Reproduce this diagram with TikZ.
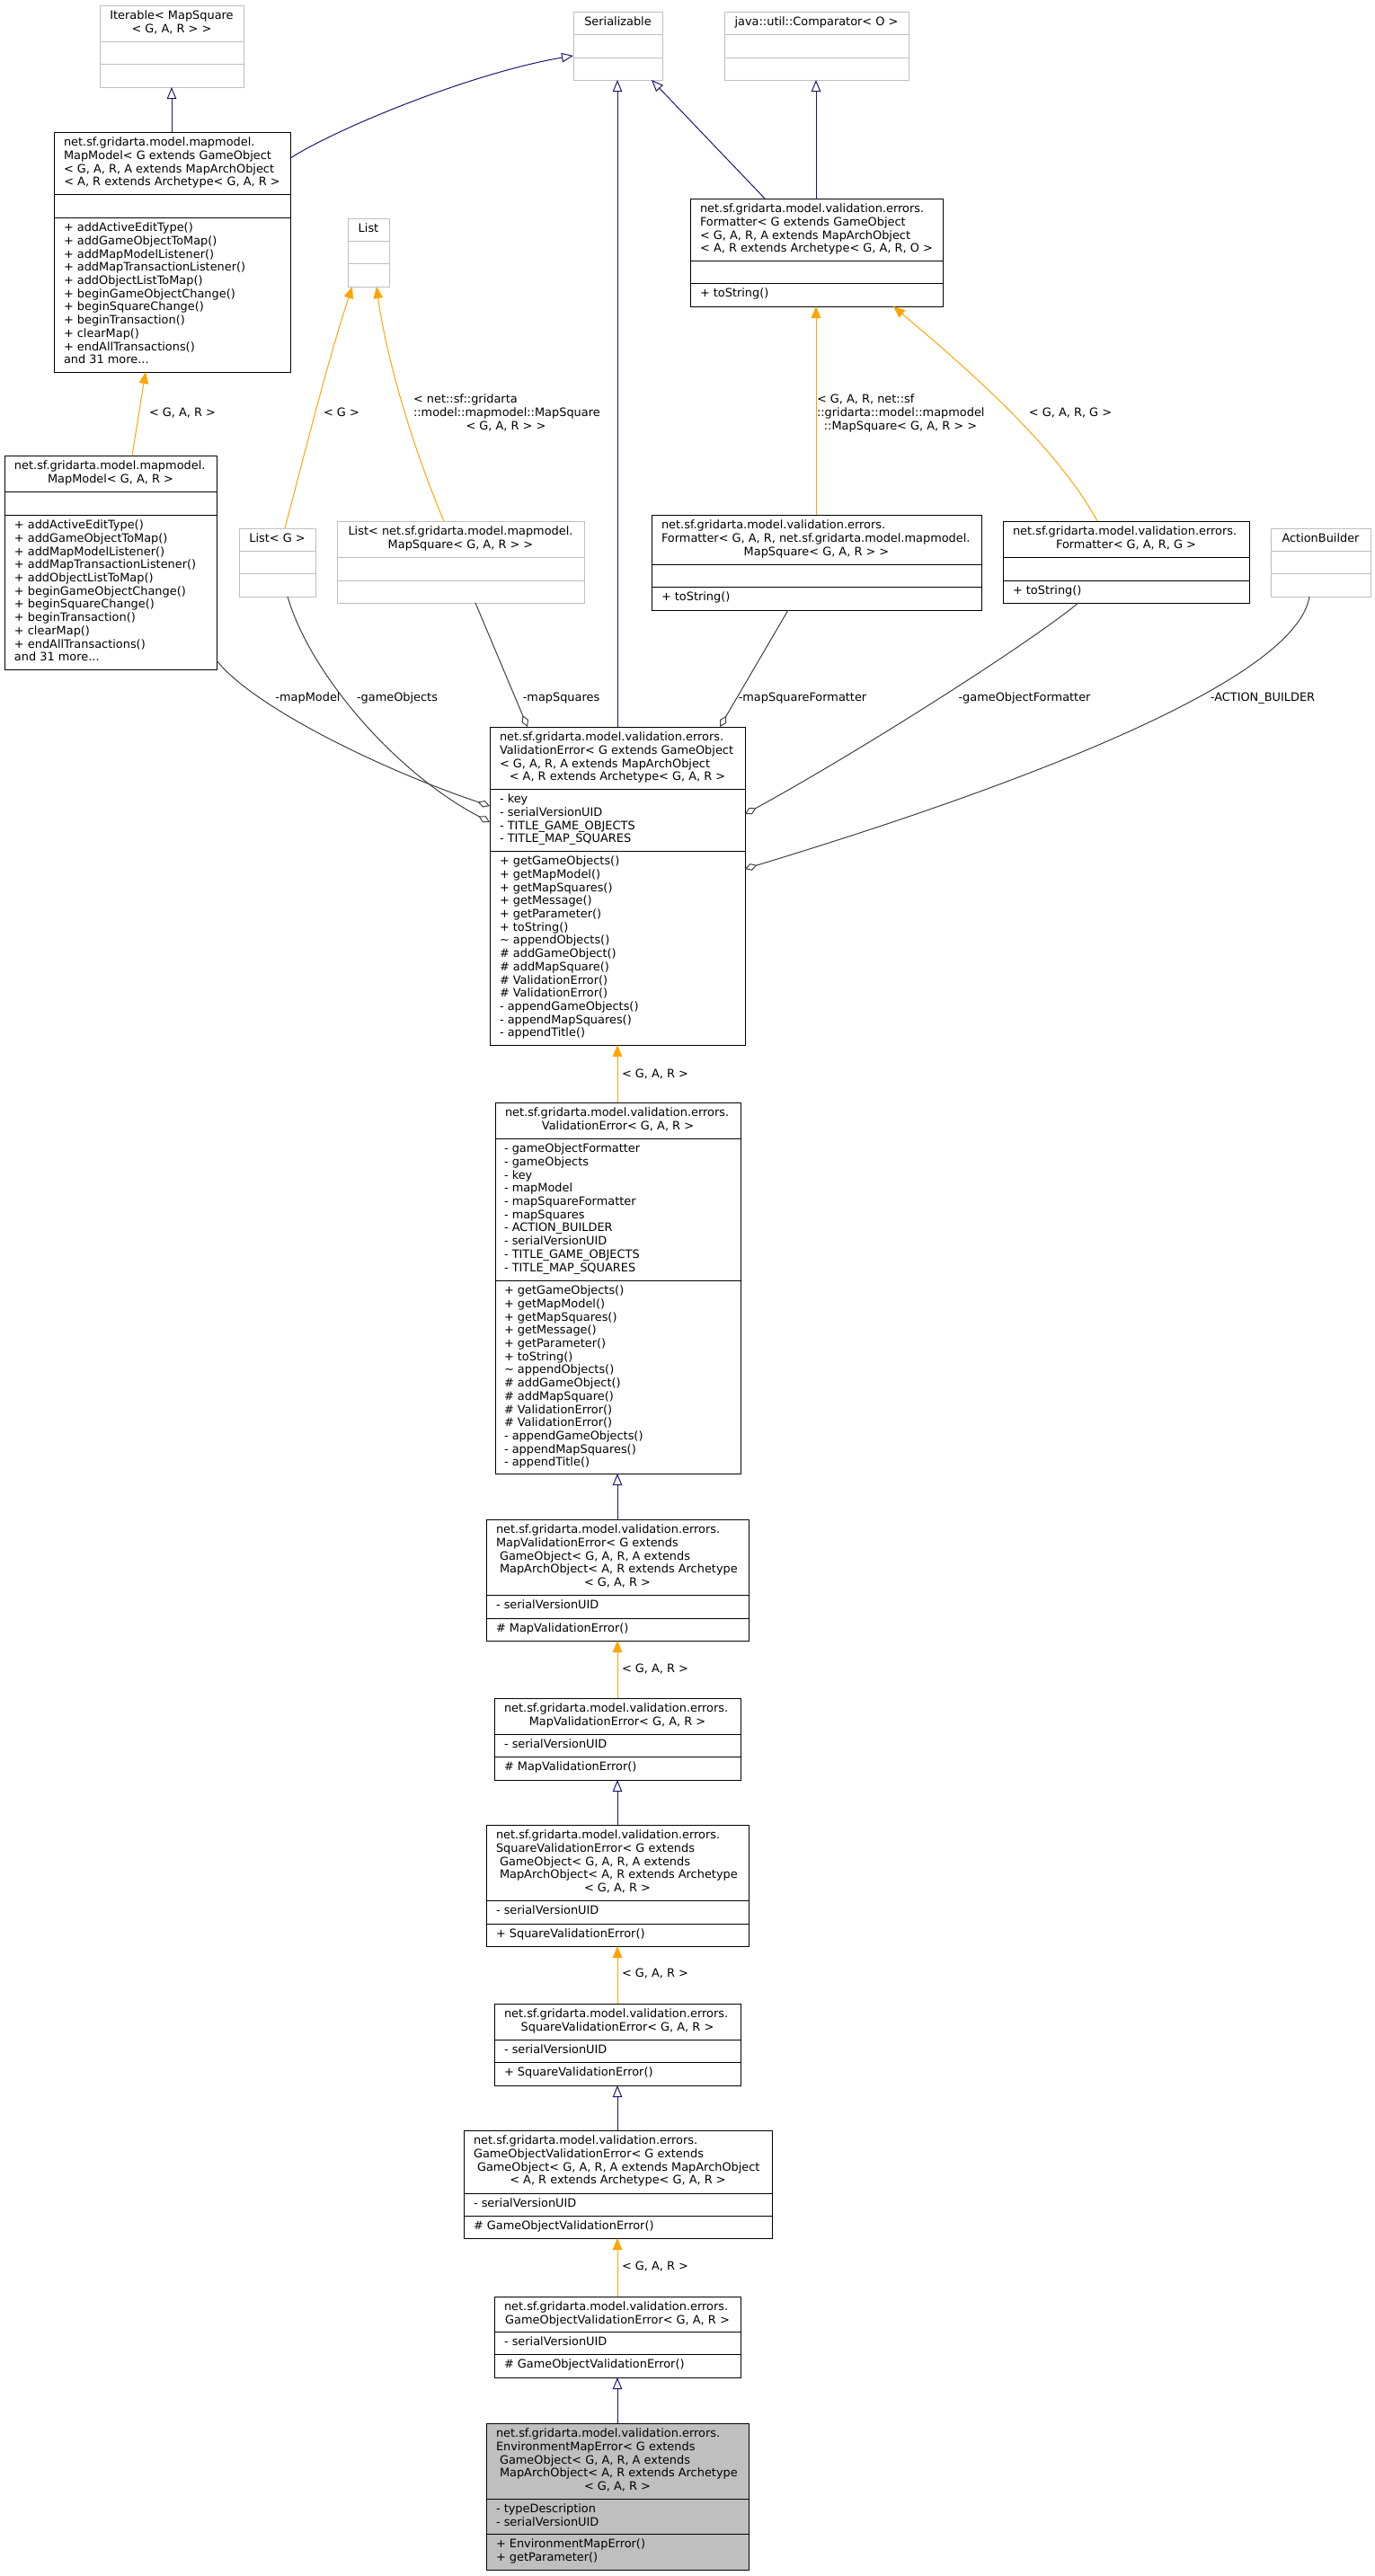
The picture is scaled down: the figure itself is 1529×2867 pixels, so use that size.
\documentclass[tikz,border=0pt]{standalone}
\usepackage{fontspec}
\setmainfont{DejaVu Sans}
\usetikzlibrary{arrows.meta}
\definecolor{navyc}{HTML}{191970}
\definecolor{orangec}{HTML}{FFA500}
\definecolor{aggc}{HTML}{404040}
\definecolor{extc}{HTML}{BFBFBF}
\definecolor{curfill}{HTML}{BFBFBF}
\newcommand\dfont{\fontsize{12.9pt}{14.7pt}\selectfont}
\newcommand\lns[1]{\begin{tabular}[t]{@{}l@{}}#1\end{tabular}}
\newcommand\clns[1]{\begin{tabular}[t]{@{}c@{}}#1\end{tabular}}
\newcommand\lsp{\hspace*{4pt}}
\tikzset{
  txt/.style={anchor=base west, inner sep=0pt, outer sep=0pt, font=\dfont},
  ctxt/.style={anchor=base, inner sep=0pt, outer sep=0pt, font=\dfont},
  inh/.style={draw=navyc, line width=1pt, -{Triangle[open, length=13pt, width=10.5pt]}},
  tpl/.style={draw=orangec, line width=1pt, -{Triangle[length=13pt, width=10.5pt]}},
  agg/.style={draw=aggc, line width=1pt, -{Diamond[open, length=14pt, width=8pt]}},
}
\newcommand\umlbox[9]{%
  \node[draw=#2, fill=#3, line width=1pt, inner sep=0pt, outer sep=0pt,
        minimum width={(#6)-(#4)}, minimum height={(#7)-(#5)}]
        (#1) at ({((#4)+(#6))/2},{((#5)+(#7))/2}) {};
  \draw[draw=#2, line width=1pt] (#1.west |- 0,#8) -- (#1.east |- 0,#8);
  \draw[draw=#2, line width=1pt] (#1.west |- 0,#9) -- (#1.east |- 0,#9);
}
\begin{document}
\begin{tikzpicture}[x=1pt,y=-1pt]
\useasboundingbox (0,0) rectangle (1529,2867);
\fill[white] (0,0) rectangle (1529,2867);

% ---------- external classes ----------
\umlbox{iter}{extc}{white}{111}{6}{271}{97}{46}{71}
\node[ctxt] (iter-t) at (191,21.7) {\clns{Iterable< MapSquare\\< G, A, R > >}};
\umlbox{ser}{extc}{white}{638}{13}{737}{89}{38}{64}
\node[ctxt] (ser-t) at (687.5,28.7) {Serializable};
\umlbox{comp}{extc}{white}{806}{13}{1011}{89}{38}{64}
\node[ctxt] (comp-t) at (908.5,28.7) {java::util::Comparator< O >};
\umlbox{list}{extc}{white}{387}{243}{433}{319}{268}{293}
\node[ctxt] (list-t) at (410,258.7) {List};
\umlbox{listG}{extc}{white}{266}{588}{351}{664}{613}{638}
\node[ctxt] (listG-t) at (308.5,603.7) {List< G >};
\umlbox{listMS}{extc}{white}{375}{580}{650}{671}{620}{646}
\node[ctxt] (listMS-t) at (512.5,595.7) {\clns{List< net.sf.gridarta.model.mapmodel.\\MapSquare< G, A, R > >}};
\umlbox{ab}{extc}{white}{1414}{588}{1525}{664}{613}{638}
\node[ctxt] (ab-t) at (1469.5,603.7) {ActionBuilder};

% ---------- MapModel generic ----------
\umlbox{mmgen}{black}{white}{60}{147}{323}{414}{216}{242}
\node[txt] (mmgen-t) at (71,162.7) {\lns{net.sf.gridarta.model.mapmodel.\\MapModel< G extends GameObject\\< G, A, R, A extends MapArchObject}};
\node[ctxt] (mmgen-tc) at (191.5,206.8) {< A, R extends Archetype< G, A, R >};
\node[txt] (mmgen-m) at (71,257.7) {\lns{+ addActiveEditType()\\+ addGameObjectToMap()\\+ addMapModelListener()\\+ addMapTransactionListener()\\+ addObjectListToMap()\\+ beginGameObjectChange()\\+ beginSquareChange()\\+ beginTransaction()\\+ clearMap()\\+ endAllTransactions()\\and 31 more...}};

% ---------- MapModel<G,A,R> ----------
\umlbox{mmG}{black}{white}{5}{507}{241}{745}{547}{573}
\node[txt] (mmG-t) at (16,522.7) {net.sf.gridarta.model.mapmodel.};
\node[ctxt] (mmG-tc) at (123,537.4) {MapModel< G, A, R >};
\node[txt] (mmG-m) at (16,588.7) {\lns{+ addActiveEditType()\\+ addGameObjectToMap()\\+ addMapModelListener()\\+ addMapTransactionListener()\\+ addObjectListToMap()\\+ beginGameObjectChange()\\+ beginSquareChange()\\+ beginTransaction()\\+ clearMap()\\+ endAllTransactions()\\and 31 more...}};

% ---------- Formatter generic ----------
\umlbox{fmtgen}{black}{white}{768}{221}{1049}{341}{290}{315}
\node[txt] (fmtgen-t) at (779,236.7) {\lns{net.sf.gridarta.model.validation.errors.\\Formatter< G extends GameObject\\< G, A, R, A extends MapArchObject}};
\node[ctxt] (fmtgen-tc) at (908.5,280.8) {< A, R extends Archetype< G, A, R, O >};
\node[txt] (fmtgen-m) at (779,330.7) {+ toString()};

% ---------- Formatter<G,A,R,MapSquare> ----------
\umlbox{fmtMS}{black}{white}{725}{573}{1092}{679}{628}{653}
\node[txt] (fmtMS-t) at (736,588.7) {\lns{net.sf.gridarta.model.validation.errors.\\Formatter< G, A, R, net.sf.gridarta.model.mapmodel.}};
\node[ctxt] (fmtMS-tc) at (908.5,618.1) {MapSquare< G, A, R > >};
\node[txt] (fmtMS-m) at (736,668.7) {+ toString()};

% ---------- Formatter<G,A,R,G> ----------
\umlbox{fmtG}{black}{white}{1116}{580}{1390}{671}{620}{646}
\node[txt] (fmtG-t) at (1127,595.7) {net.sf.gridarta.model.validation.errors.};
\node[ctxt] (fmtG-tc) at (1253,610.4) {Formatter< G, A, R, G >};
\node[txt] (fmtG-m) at (1127,661.7) {+ toString()};

% ---------- ValidationError generic ----------
\umlbox{vegen}{black}{white}{545}{809}{829}{1163}{878}{947}
\node[txt] (vegen-t) at (556,824.7) {\lns{net.sf.gridarta.model.validation.errors.\\ValidationError< G extends GameObject\\< G, A, R, A extends MapArchObject}};
\node[ctxt] (vegen-tc) at (687,868.8) {< A, R extends Archetype< G, A, R >};
\node[txt] (vegen-a) at (556,893.7) {\lns{- key\\- serialVersionUID\\- TITLE\_GAME\_OBJECTS\\- TITLE\_MAP\_SQUARES}};
\node[txt] (vegen-m) at (556,962.7) {\lns{+ getGameObjects()\\+ getMapModel()\\+ getMapSquares()\\+ getMessage()\\+ getParameter()\\+ toString()\\\textasciitilde{} appendObjects()\\\# addGameObject()\\\# addMapSquare()\\\# ValidationError()\\\# ValidationError()\\- appendGameObjects()\\- appendMapSquares()\\- appendTitle()}};

% ---------- ValidationError<G,A,R> ----------
\umlbox{veG}{black}{white}{551}{1227}{824}{1640}{1267}{1425}
\node[txt] (veG-t) at (562,1242.7) {net.sf.gridarta.model.validation.errors.};
\node[ctxt] (veG-tc) at (687.5,1257.4) {ValidationError< G, A, R >};
\node[txt] (veG-a) at (561,1282.7) {\lns{- gameObjectFormatter\\- gameObjects\\- key\\- mapModel\\- mapSquareFormatter\\- mapSquares\\- ACTION\_BUILDER\\- serialVersionUID\\- TITLE\_GAME\_OBJECTS\\- TITLE\_MAP\_SQUARES}};
\node[txt] (veG-m) at (561,1440.7) {\lns{+ getGameObjects()\\+ getMapModel()\\+ getMapSquares()\\+ getMessage()\\+ getParameter()\\+ toString()\\\textasciitilde{} appendObjects()\\\# addGameObject()\\\# addMapSquare()\\\# ValidationError()\\\# ValidationError()\\- appendGameObjects()\\- appendMapSquares()\\- appendTitle()}};

% ---------- MapValidationError generic ----------
\umlbox{mvegen}{black}{white}{541}{1691}{833}{1826}{1775}{1801}
\node[txt] (mvegen-t) at (552,1706.7) {\lns{net.sf.gridarta.model.validation.errors.\\MapValidationError< G extends\\\lsp GameObject< G, A, R, A extends\\\lsp MapArchObject< A, R extends Archetype}};
\node[ctxt] (mvegen-tc) at (687,1765.5) {< G, A, R >};
\node[txt] (mvegen-a) at (552,1790.7) {- serialVersionUID};
\node[txt] (mvegen-m) at (552,1816.7) {\# MapValidationError()};

% ---------- MapValidationError<G,A,R> ----------
\umlbox{mveG}{black}{white}{550}{1890}{824}{1981}{1930}{1955}
\node[txt] (mveG-t) at (561,1905.7) {net.sf.gridarta.model.validation.errors.};
\node[ctxt] (mveG-tc) at (687,1920.4) {MapValidationError< G, A, R >};
\node[txt] (mveG-a) at (561,1945.7) {- serialVersionUID};
\node[txt] (mveG-m) at (561,1970.7) {\# MapValidationError()};

% ---------- SquareValidationError generic ----------
\umlbox{svegen}{black}{white}{541}{2031}{833}{2166}{2115}{2141}
\node[txt] (svegen-t) at (552,2046.7) {\lns{net.sf.gridarta.model.validation.errors.\\SquareValidationError< G extends\\\lsp GameObject< G, A, R, A extends\\\lsp MapArchObject< A, R extends Archetype}};
\node[ctxt] (svegen-tc) at (687,2105.5) {< G, A, R >};
\node[txt] (svegen-a) at (552,2130.7) {- serialVersionUID};
\node[txt] (svegen-m) at (552,2156.7) {+ SquareValidationError()};

% ---------- SquareValidationError<G,A,R> ----------
\umlbox{sveG}{black}{white}{550}{2230}{824}{2321}{2270}{2295}
\node[txt] (sveG-t) at (561,2245.7) {net.sf.gridarta.model.validation.errors.};
\node[ctxt] (sveG-tc) at (687,2260.4) {SquareValidationError< G, A, R >};
\node[txt] (sveG-a) at (561,2285.7) {- serialVersionUID};
\node[txt] (sveG-m) at (561,2310.7) {+ SquareValidationError()};

% ---------- GameObjectValidationError generic ----------
\umlbox{govegen}{black}{white}{516}{2371}{859}{2491}{2441}{2466}
\node[txt] (govegen-t) at (527,2386.7) {\lns{net.sf.gridarta.model.validation.errors.\\GameObjectValidationError< G extends\\\lsp GameObject< G, A, R, A extends MapArchObject}};
\node[ctxt] (govegen-tc) at (687.5,2430.8) {< A, R extends Archetype< G, A, R >};
\node[txt] (govegen-a) at (527,2456.7) {- serialVersionUID};
\node[txt] (govegen-m) at (527,2481.7) {\# GameObjectValidationError()};

% ---------- GameObjectValidationError<G,A,R> ----------
\umlbox{goveG}{black}{white}{550}{2556}{824}{2646}{2595}{2620}
\node[txt] (goveG-t) at (561,2571.7) {net.sf.gridarta.model.validation.errors.};
\node[ctxt] (goveG-tc) at (687,2586.4) {GameObjectValidationError< G, A, R >};
\node[txt] (goveG-a) at (561,2610.7) {- serialVersionUID};
\node[txt] (goveG-m) at (561,2635.7) {\# GameObjectValidationError()};

% ---------- EnvironmentMapError ----------
\umlbox{env}{black}{curfill}{541}{2697}{833}{2860}{2781}{2820}
\node[txt] (env-t) at (552,2712.7) {\lns{net.sf.gridarta.model.validation.errors.\\EnvironmentMapError< G extends\\\lsp GameObject< G, A, R, A extends\\\lsp MapArchObject< A, R extends Archetype}};
\node[ctxt] (env-tc) at (687,2771.5) {< G, A, R >};
\node[txt] (env-a) at (552,2796.7) {\lns{- typeDescription\\- serialVersionUID}};
\node[txt] (env-m) at (552,2835.7) {\lns{+ EnvironmentMapError()\\+ getParameter()}};

% ---------- inheritance ----------
\draw[inh] (mmgen.north -| 191,0) -- (iter.south -| 191,0);
\draw[inh] (mmgen.east |- 0,176) .. controls (380,140) and (530,80) .. (ser.west |- 0,62);
\draw[inh] (vegen.north -| 687,0) -- (ser.south -| 687,0);
\draw[inh] (fmtgen.north -| 851,0) -- (ser.south -| 725,0);
\draw[inh] (fmtgen.north -| 908,0) -- (comp.south -| 908,0);
\draw[inh] (mvegen.north -| 687,0) -- (veG.south -| 687,0);
\draw[inh] (svegen.north -| 687,0) -- (mveG.south -| 687,0);
\draw[inh] (govegen.north -| 687,0) -- (sveG.south -| 687,0);
\draw[inh] (env.north -| 687,0) -- (goveG.south -| 687,0);

% ---------- template instantiation ----------
\draw[tpl] (mmG.north -| 147,0) -- (mmgen.south -| 162,0);
\draw[tpl] (listG.north -| 317,0) .. controls (335,520) and (365,400) .. (list.south -| 392,0);
\draw[tpl] (listMS.north -| 494,0) .. controls (460,500) and (430,400) .. (list.south -| 419,0);
\draw[tpl] (fmtMS.north -| 908,0) -- (fmtgen.south -| 908,0);
\draw[tpl] (fmtG.north -| 1221,0) .. controls (1175,495) and (1070,405) .. (fmtgen.south -| 994,0);
\draw[tpl] (veG.north -| 687,0) -- (vegen.south -| 687,0);
\draw[tpl] (mveG.north -| 687,0) -- (mvegen.south -| 687,0);
\draw[tpl] (sveG.north -| 687,0) -- (svegen.south -| 687,0);
\draw[tpl] (goveG.north -| 687,0) -- (govegen.south -| 687,0);

\node[txt] (l-mm) at (166,463.7) {< G, A, R >};
\node[txt] (l-lg) at (360,463.7) {< G >};
\node[txt] (l-lms) at (460,448.7) {\lns{< net::sf::gridarta\\::model::mapmodel::MapSquare}};
\node[ctxt] (l-lmsc) at (563,478.1) {< G, A, R > >};
\node[txt] (l-fms) at (909,448.7) {\lns{< G, A, R, net::sf\\::gridarta::model::mapmodel}};
\node[ctxt] (l-fmsc) at (1002,478.1) {::MapSquare< G, A, R > >};
\node[ctxt] (l-fg) at (1191,463.7) {< G, A, R, G >};
\node[txt] (l-ve) at (692,1199.7) {< G, A, R >};
\node[txt] (l-mve) at (692,1861.4) {< G, A, R >};
\node[txt] (l-sve) at (692,2200.7) {< G, A, R >};
\node[txt] (l-gove) at (692,2526.7) {< G, A, R >};

% ---------- aggregation ----------
\draw[agg] (mmG.east |- 0,735) .. controls (280,785) and (420,855) .. (vegen.west |- 0,897);
\draw[agg] (listG.south -| 320,0) .. controls (345,750) and (440,860) .. (vegen.west |- 0,915);
\draw[agg] (listMS.south -| 529,0) -- (vegen.north -| 587,0);
\draw[agg] (fmtMS.south -| 877,0) -- (vegen.north -| 801,0);
\draw[agg] (fmtG.south -| 1200,0) .. controls (1140,720) and (950,840) .. (vegen.east |- 0,906);
\draw[agg] (ab.south -| 1457,0) .. controls (1440,770) and (1050,900) .. (vegen.east |- 0,967);

\node[ctxt] (l-amm) at (342.5,780) {-mapModel};
\node[ctxt] (l-ago) at (442,780) {-gameObjects};
\node[ctxt] (l-ams) at (624.5,780) {-mapSquares};
\node[ctxt] (l-amsf) at (893,780) {-mapSquareFormatter};
\node[ctxt] (l-agof) at (1140,780) {-gameObjectFormatter};
\node[ctxt] (l-aab) at (1405,780) {-ACTION\_BUILDER};
\end{tikzpicture}
\end{document}
